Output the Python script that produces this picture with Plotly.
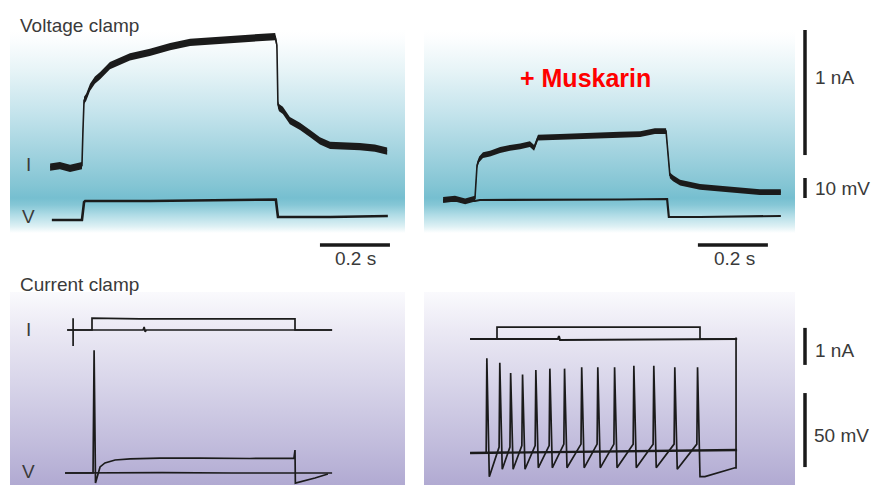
import plotly.graph_objects as go

# ------------------------------------------------------------------ data
# time in s (0 = onset of the command step), current in nA, voltage in mV
# --- voltage clamp, control
A_I_T = [-0.094, -0.066, -0.037, -0.003, 0.000, 0.003, 0.009, 0.020, 0.034, 0.049, 0.077, 0.106,
         0.134, 0.191, 0.249, 0.306, 0.363, 0.420, 0.477, 0.520, 0.549, 0.554, 0.557, 0.560, 0.571,
         0.591, 0.620, 0.649, 0.677, 0.706, 0.749, 0.791, 0.834, 0.869]
A_I = [0.00, 0.01, -0.01, 0.01, 0.26, 0.46, 0.48, 0.55, 0.60, 0.63, 0.70, 0.73,
       0.76, 0.79, 0.83, 0.86, 0.87, 0.88, 0.89, 0.90, 0.90, 0.84, 0.43, 0.41, 0.39,
       0.32, 0.28, 0.23, 0.18, 0.15, 0.145, 0.14, 0.13, 0.11]
A_V_T = [-0.089, -0.003, 0.003, 0.006, 0.191, 0.334, 0.477, 0.551, 0.557, 0.706, 0.871]
A_V = [0.0, 0.0, 9.0, 9.5, 9.5, 9.75, 10.0, 10.25, 1.5, 1.5, 2.0]

# --- voltage clamp, + Muskarin
B_I_T = [-0.094, -0.060, -0.031, -0.003, 0.003, 0.009, 0.020, 0.040, 0.069, 0.097, 0.126, 0.154,
         0.166, 0.177, 0.240, 0.326, 0.411, 0.469, 0.511, 0.543, 0.549, 0.554, 0.563, 0.583,
         0.640, 0.726, 0.811, 0.871]
B_I = [0.00, 0.01, -0.01, 0.01, 0.24, 0.28, 0.31, 0.32, 0.345, 0.36, 0.37, 0.385,
       0.36, 0.43, 0.435, 0.44, 0.45, 0.455, 0.475, 0.475, 0.28, 0.17, 0.15, 0.12,
       0.09, 0.07, 0.055, 0.055]
B_V_T = [-0.094, -0.003, 0.011, 0.240, 0.411, 0.546, 0.551, 0.640, 0.754, 0.871]
B_V = [8.0, 8.0, 8.5, 8.5, 8.75, 9.0, 0.0, 0.0, 0.25, 0.5]
A_NOISE = 0.025  # half-width of the noisy current band (nA), control
B_NOISE = 0.020  # half-width of the noisy current band (nA), + Muskarin

# --- current clamp, control
C_I1_T = [-0.071, 0.000, 0.000, 0.137, 0.309, 0.451, 0.580, 0.580, 0.686]
C_I1 = [0, 0, 0.32, 0.30, 0.30, 0.30, 0.30, 0, 0]
C_I2_T = [-0.071, -0.054, -0.054, -0.054, -0.054, 0.146, 0.149, 0.152, 0.155, 0.686]
C_I2 = [0, 0, 0.32, -0.43, 0, 0, 0.08, -0.05, 0, 0]
C_V1_T = [-0.077, 0.003, 0.006, 0.010, 0.014, 0.023, 0.037, 0.066, 0.109, 0.194, 0.309, 0.451,
          0.577, 0.580, 0.581, 0.594, 0.637, 0.674]
C_V1 = [0, 0, 83, -6.8, -3.4, 4.1, 6.8, 8.8, 9.5, 10.1, 10.1, 9.8,
        10.1, 15.5, -6.8, -6.1, -3.4, -0.7]
C_V2_T = [-0.077, 0.200, 0.400, 0.686]
C_V2 = [0, 0.3, 0, 0]

# --- current clamp, + Muskarin
D_I1_T = [-0.077, 0.0, 0.0, 0.580, 0.580, 0.686]
D_I1 = [0, 0, 0.32, 0.32, 0, 0]
D_I2_T = [-0.077, 0.174, 0.177, 0.180, 0.686]
D_I2 = [0, 0, 0.08, -0.03, 0]
SPK_T = [-0.031, 0.006, 0.037, 0.071, 0.109, 0.149, 0.191, 0.240, 0.286, 0.334, 0.389, 0.446, 0.506, 0.571]
SPK_PEAK = [64, 61, 54, 53, 56, 57, 57, 58, 58, 58, 59, 59, 58, 58]
SPK_THR = [0, 4, 4, 5, 5, 5, 6, 6, 6, 6, 6, 6, 6, 6]
SPK_TROUGH = [-16, -11, -11, -11, -10, -10, -10, -10, -10, -10, -10, -10, -11, -16]
SPK_RISE, SPK_FALL = 0.002, 0.009
D_PRE_T, D_PRE_V = [-0.077, -0.034], [0, 0]
D_TAIL_T = [0.594, 0.680, 0.683, 0.683]
D_TAIL_V = [-16, -10, -10, 78]
D_V2_T = [-0.077, 0.686]
D_V2 = [0, 2]

SCALE_T = 0.2     # s
SCALE_I = 1.0     # nA
SCALE_V_VC = 10   # mV
SCALE_V_CC = 50   # mV

# ------------------------------------------------------------------ layout geometry
W, H = 874, 485
PX_PER_S = 350
INK = "#1b1b1b"
TXT = "#3a3a3a"
FONT = "Liberation Sans, Arial, sans-serif"

P = {
    "A": dict(box=(10, 405, 30, 233), t0=83, iref=167, ipx=145, vref=220, vpx=2.0, xa="x", yi="y", yv="y2"),
    "B": dict(box=(424, 795, 30, 233), t0=476, iref=200, ipx=145, vref=217, vpx=2.0, xa="x2", yi="y3", yv="y4"),
    "C": dict(box=(10, 405, 292, 485), t0=92, iref=330, ipx=37, vref=473, vpx=1.48, xa="x3", yi="y5", yv="y6"),
    "D": dict(box=(424, 795, 292, 485), t0=497, iref=339, ipx=37, vref=453, vpx=1.48, xa="x4", yi="y7", yv="y8"),
}

TEAL = [[0.0, "#ffffff"], [0.034, "#dcf0f4"], [0.089, "#b0dce6"], [0.138, "#86c7d6"],
        [0.172, "#76bfd0"], [0.236, "#84c5d4"], [0.409, "#a4d4e0"], [0.606, "#c7e5ed"],
        [0.803, "#e7f4f7"], [0.95, "#fbfdfe"], [1.0, "#ffffff"]]
LAV = [[0.0, "#b1aad2"], [0.233, "#c3bedd"], [0.544, "#d9d6ea"], [0.803, "#ebe9f4"], [1.0, "#fafafd"]]
GRAD = {"A": TEAL, "B": TEAL, "C": LAV, "D": LAV}


def lk(axid):
    return axid[0] + "axis" + axid[1:]


def rng(top_px, bot_px, ref_px, scale):
    return [(ref_px - bot_px) / scale, (ref_px - top_px) / scale]


layout_axes = {}
for k, p in P.items():
    x0, x1, yt, yb = p["box"]
    xr = [(x0 - p["t0"]) / PX_PER_S, (x1 - p["t0"]) / PX_PER_S]
    ri = rng(yt, yb, p["iref"], p["ipx"])
    rv = rng(yt, yb, p["vref"], p["vpx"])
    p["xr"], p["ri"], p["rv"] = xr, ri, rv
    dx = [x0 / W, x1 / W]
    dy = [1 - yb / H, 1 - yt / H]
    layout_axes[lk(p["xa"])] = dict(domain=dx, range=xr, visible=False, anchor=p["yi"], fixedrange=True)
    layout_axes[lk(p["yi"])] = dict(domain=dy, range=ri, visible=False, anchor=p["xa"], fixedrange=True)
    layout_axes[lk(p["yv"])] = dict(domain=dy, range=rv, visible=False, anchor=p["xa"],
                                    overlaying=p["yi"], fixedrange=True)

fig = go.Figure()


def add(k, t, v, ax="i", width=1.5, color=INK, **kw):
    p = P[k]
    fig.add_trace(go.Scatter(x=t, y=v, xaxis=p["xa"], yaxis=p["yi"] if ax == "i" else p["yv"],
                             mode="lines", line=dict(color=color, width=width),
                             hoverinfo="skip", showlegend=False, **kw))


# backgrounds
for k, p in P.items():
    xr, ri = p["xr"], p["ri"]
    fig.add_trace(go.Scatter(
        x=[xr[0], xr[1], xr[1], xr[0], xr[0]], y=[ri[0], ri[0], ri[1], ri[1], ri[0]],
        xaxis=p["xa"], yaxis=p["yi"], mode="lines", line=dict(width=0), fill="toself",
        fillgradient=dict(type="vertical", colorscale=GRAD[k], start=ri[0], stop=ri[1]),
        hoverinfo="skip", showlegend=False))

# voltage-clamp currents: noisy band + centre line
for k, t, cur, nz in (("A", A_I_T, A_I, A_NOISE), ("B", B_I_T, B_I, B_NOISE)):
    add(k, t, [c - nz for c in cur], width=0)
    add(k, t, [c + nz for c in cur], width=0, fill="tonexty", fillcolor=INK)
    add(k, t, cur, width=1.6)

add("A", A_V_T, A_V, ax="v", width=2.6)
add("B", B_V_T, B_V, ax="v", width=2.2)

# current clamp
add("C", C_I2_T, C_I2, width=1.7)
add("C", C_I1_T, C_I1, width=1.7)
add("C", C_V2_T, C_V2, ax="v", width=1.7)
add("C", C_V1_T, C_V1, ax="v", width=1.7)

add("D", D_I2_T, D_I2, width=2.0)
add("D", D_I1_T, D_I1, width=1.7)
add("D", D_V2_T, D_V2, ax="v", width=2.4)
spk_t, spk_v = list(D_PRE_T), list(D_PRE_V)
for t, pk, th, tr in zip(SPK_T, SPK_PEAK, SPK_THR, SPK_TROUGH):
    spk_t += [t, t + SPK_RISE, t + SPK_FALL]
    spk_v += [th, pk, tr]
spk_t += D_TAIL_T
spk_v += D_TAIL_V
add("D", spk_t, spk_v, ax="v", width=1.7)

# ------------------------------------------------------------------ scale bars
BAR = dict(color="#1a1a1a", width=3.5)
shapes = [
    dict(type="line", xref="x", yref="paper", x0=0.677, x1=0.677 + SCALE_T,
         y0=1 - 245 / H, y1=1 - 245 / H, line=BAR),
    dict(type="line", xref="x2", yref="paper", x0=0.634, x1=0.634 + SCALE_T,
         y0=1 - 245 / H, y1=1 - 245 / H, line=BAR),
    dict(type="line", xref="paper", yref="y3", x0=805 / W, x1=805 / W, y0=0.31, y1=0.31 + SCALE_I, line=BAR),
    dict(type="line", xref="paper", yref="y4", x0=805 / W, x1=805 / W, y0=9.5, y1=9.5 + SCALE_V_VC, line=BAR),
    dict(type="line", xref="paper", yref="y7", x0=805 / W, x1=805 / W, y0=-0.70, y1=-0.70 + SCALE_I, line=BAR),
    dict(type="line", xref="paper", yref="y8", x0=805 / W, x1=805 / W, y0=-9.5, y1=-9.5 + SCALE_V_CC, line=BAR),
]


def note(text, x, y, size=19, color=TXT, anchor="left", bold=False):
    return dict(text=f"<b>{text}</b>" if bold else text, x=x / W, y=1 - y / H, xref="paper", yref="paper",
                xanchor=anchor, yanchor="middle", showarrow=False,
                font=dict(family=FONT, size=size, color=color))


annotations = [
    note("Voltage clamp", 18, 25),
    note("Current clamp", 18, 284),
    note("I", 28, 164, anchor="center"),
    note("V", 29, 217, anchor="center"),
    note("I", 28, 329, anchor="center"),
    note("V", 29, 471, anchor="center"),
    note("+ Muskarin", 585, 78, size=25, color="#ff0000", anchor="center", bold=True),
    note(f"{SCALE_T} s", 355, 258, anchor="center"),
    note(f"{SCALE_T} s", 734, 258, anchor="center"),
    note(f"{SCALE_I:g} nA", 813, 78),
    note(f"{SCALE_V_VC} mV", 813, 189),
    note(f"{SCALE_I:g} nA", 813, 350),
    note(f"{SCALE_V_CC} mV", 812, 435),
]

fig.update_layout(width=W, height=H, margin=dict(l=0, r=0, t=0, b=0),
                  paper_bgcolor="white", plot_bgcolor="rgba(0,0,0,0)", showlegend=False,
                  shapes=shapes, annotations=annotations, **layout_axes)

fig.write_html("out.html")
